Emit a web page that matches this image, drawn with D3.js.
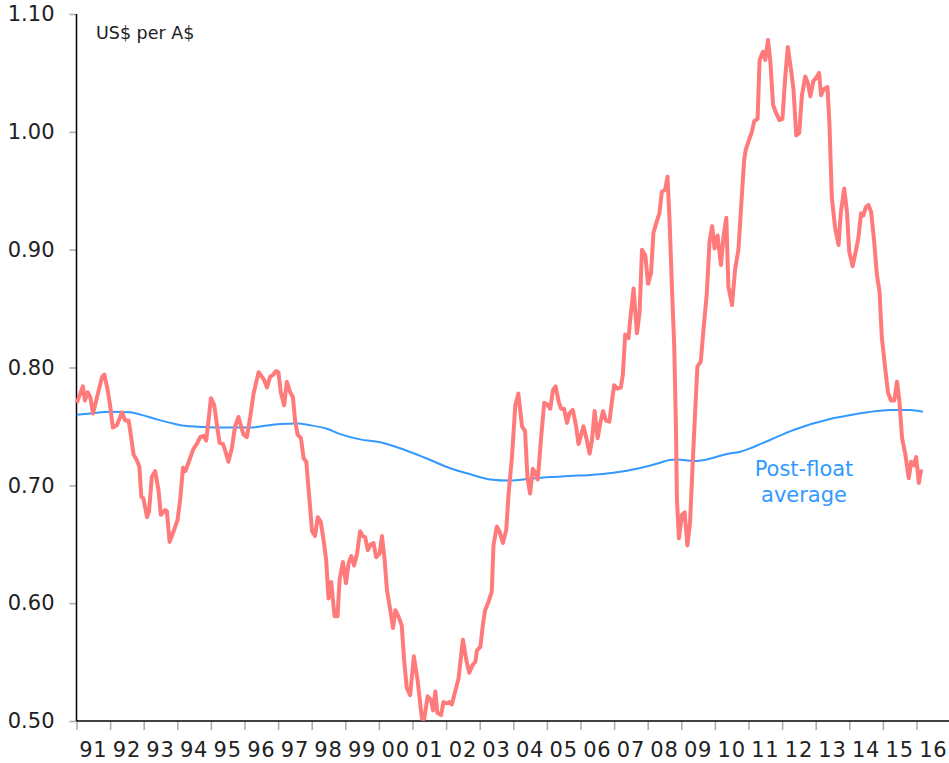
<!DOCTYPE html>
<html>
<head>
<meta charset="utf-8">
<script src="https://cdn.jsdelivr.net/npm/d3@7"></script>
<style>
  html, body { margin: 0; padding: 0; background: #fff; }
  svg { display: block; }
  text { font-family: "DejaVu Sans", sans-serif; fill: #222; }
</style>
</head>
<body>
<svg id="chart"></svg>
<script>
var W = 949, H = 763;

// US$ per A$ (decimal year)
var rateYears = [
  1991.01, 1991.19, 1991.25, 1991.33, 1991.41, 1991.49, 1991.76, 1991.83, 1991.92, 1992.00,
  1992.08, 1992.20, 1992.30, 1992.35, 1992.45, 1992.55, 1992.60, 1992.70, 1992.80, 1992.87,
  1992.93, 1992.99, 1993.10, 1993.16, 1993.24, 1993.34, 1993.44, 1993.51, 1993.64, 1993.69,
  1993.77, 1993.89, 1994.01, 1994.09, 1994.17, 1994.24, 1994.33, 1994.48, 1994.58, 1994.68,
  1994.78, 1994.86, 1994.93, 1995.00, 1995.10, 1995.18, 1995.26, 1995.36, 1995.43, 1995.52,
  1995.62, 1995.72, 1995.82, 1995.97, 1996.07, 1996.17, 1996.27, 1996.42, 1996.52, 1996.59,
  1996.67, 1996.76, 1996.86, 1996.94, 1997.01, 1997.08, 1997.18, 1997.26, 1997.36, 1997.44,
  1997.51, 1997.58, 1997.68, 1997.76, 1997.84, 1997.90, 1997.96, 1998.01, 1998.10, 1998.18,
  1998.27, 1998.35, 1998.43, 1998.50, 1998.58, 1998.68, 1998.77, 1998.83, 1998.93, 1999.02,
  1999.10, 1999.18, 1999.26, 1999.35, 1999.44, 1999.52, 1999.59, 1999.67, 1999.76, 1999.84,
  1999.92, 2000.02, 2000.09, 2000.17, 2000.24, 2000.34, 2000.42, 2000.49, 2000.58, 2000.68,
  2000.75, 2000.83, 2000.93, 2001.04, 2001.15, 2001.28, 2001.35, 2001.45, 2001.55, 2001.61,
  2001.68, 2001.74, 2001.85, 2001.92, 2002.02, 2002.10, 2002.17, 2002.27, 2002.37, 2002.50,
  2002.60, 2002.69, 2002.80, 2002.87, 2002.92, 2003.02, 2003.10, 2003.16, 2003.26, 2003.36,
  2003.41, 2003.51, 2003.59, 2003.69, 2003.79, 2003.86, 2003.96, 2004.06, 2004.15, 2004.26,
  2004.35, 2004.42, 2004.50, 2004.58, 2004.65, 2004.73, 2004.82, 2004.92, 2005.00, 2005.10,
  2005.18, 2005.26, 2005.35, 2005.42, 2005.51, 2005.60, 2005.67, 2005.77, 2005.87, 2005.94,
  2006.09, 2006.19, 2006.27, 2006.34, 2006.42, 2006.51, 2006.59, 2006.67, 2006.76, 2006.86,
  2006.93, 2007.00, 2007.10, 2007.20, 2007.26, 2007.33, 2007.43, 2007.48, 2007.58, 2007.68,
  2007.76, 2007.83, 2007.93, 2008.01, 2008.10, 2008.17, 2008.27, 2008.35, 2008.42, 2008.52,
  2008.59, 2008.65, 2008.72, 2008.79, 2008.84, 2008.87, 2008.93, 2009.02, 2009.10, 2009.18,
  2009.26, 2009.33, 2009.41, 2009.48, 2009.58, 2009.66, 2009.76, 2009.84, 2009.92, 2009.99,
  2010.08, 2010.18, 2010.26, 2010.34, 2010.40, 2010.51, 2010.60, 2010.70, 2010.80, 2010.87,
  2010.92, 2011.05, 2011.10, 2011.17, 2011.27, 2011.33, 2011.43, 2011.50, 2011.58, 2011.65,
  2011.73, 2011.82, 2011.92, 2012.01, 2012.09, 2012.17, 2012.26, 2012.34, 2012.42, 2012.51,
  2012.59, 2012.69, 2012.77, 2012.84, 2012.93, 2013.04, 2013.10, 2013.16, 2013.23, 2013.35,
  2013.41, 2013.48, 2013.58, 2013.68, 2013.75, 2013.85, 2013.93, 2014.00, 2014.10, 2014.21,
  2014.27, 2014.35, 2014.42, 2014.49, 2014.57, 2014.65, 2014.74, 2014.82, 2014.90, 2014.97,
  2015.07, 2015.15, 2015.24, 2015.34, 2015.42, 2015.49, 2015.57, 2015.67, 2015.77, 2015.84,
  2015.92, 2015.99, 2016.07, 2016.13, 2016.19
];
var rateValues = [
  0.770, 0.784, 0.772, 0.779, 0.775, 0.761, 0.792, 0.794, 0.782, 0.768,
  0.749, 0.751, 0.758, 0.762, 0.755, 0.755, 0.746, 0.726, 0.721, 0.716,
  0.690, 0.689, 0.673, 0.678, 0.707, 0.712, 0.696, 0.675, 0.679, 0.678,
  0.652, 0.661, 0.671, 0.689, 0.715, 0.712, 0.719, 0.731, 0.735, 0.741,
  0.742, 0.738, 0.755, 0.774, 0.768, 0.751, 0.736, 0.735, 0.729, 0.720,
  0.731, 0.750, 0.758, 0.743, 0.741, 0.758, 0.778, 0.796, 0.792, 0.789,
  0.783, 0.792, 0.794, 0.797, 0.796, 0.779, 0.768, 0.788, 0.779, 0.775,
  0.754, 0.743, 0.740, 0.723, 0.720, 0.699, 0.679, 0.661, 0.657, 0.673,
  0.669, 0.654, 0.637, 0.604, 0.618, 0.589, 0.589, 0.620, 0.635, 0.617,
  0.634, 0.640, 0.632, 0.642, 0.661, 0.657, 0.656, 0.645, 0.650, 0.651,
  0.639, 0.642, 0.657, 0.637, 0.611, 0.594, 0.579, 0.594, 0.589, 0.581,
  0.552, 0.528, 0.522, 0.555, 0.535, 0.502, 0.502, 0.521, 0.518, 0.509,
  0.525, 0.507, 0.505, 0.516, 0.515, 0.516, 0.514, 0.525, 0.536, 0.569,
  0.552, 0.541, 0.548, 0.550, 0.560, 0.563, 0.583, 0.594, 0.601, 0.610,
  0.649, 0.665, 0.661, 0.651, 0.662, 0.693, 0.724, 0.768, 0.778, 0.750,
  0.746, 0.707, 0.693, 0.714, 0.711, 0.705, 0.738, 0.770, 0.769, 0.765,
  0.781, 0.784, 0.771, 0.765, 0.765, 0.753, 0.761, 0.764, 0.750, 0.735,
  0.750, 0.738, 0.727, 0.738, 0.763, 0.740, 0.753, 0.763, 0.755, 0.754,
  0.770, 0.785, 0.782, 0.783, 0.794, 0.828, 0.825, 0.841, 0.867, 0.829,
  0.847, 0.900, 0.895, 0.871, 0.880, 0.914, 0.924, 0.931, 0.949, 0.951,
  0.962, 0.925, 0.869, 0.818, 0.750, 0.688, 0.655, 0.675, 0.677, 0.649,
  0.668, 0.713, 0.761, 0.801, 0.805, 0.832, 0.863, 0.907, 0.920, 0.901,
  0.912, 0.887, 0.912, 0.927, 0.869, 0.853, 0.883, 0.900, 0.945, 0.976,
  0.985, 0.996, 1.000, 1.009, 1.011, 1.061, 1.068, 1.061, 1.078, 1.060,
  1.023, 1.016, 1.010, 1.011, 1.045, 1.072, 1.054, 1.036, 0.997, 0.999,
  1.031, 1.047, 1.041, 1.030, 1.043, 1.047, 1.050, 1.031, 1.036, 1.038,
  1.006, 0.944, 0.918, 0.904, 0.932, 0.952, 0.932, 0.898, 0.886, 0.901,
  0.910, 0.931, 0.929, 0.936, 0.938, 0.932, 0.907, 0.879, 0.864, 0.825,
  0.799, 0.779, 0.772, 0.772, 0.788, 0.772, 0.740, 0.726, 0.706, 0.720,
  0.717, 0.724, 0.702, 0.712, 0.712
];

// post-float average
var avgYears = [
  1991.01, 1991.41, 1992.00, 1992.60, 1992.90, 1993.39, 1993.79, 1994.09, 1994.78, 1995.57,
  1996.17, 1996.47, 1997.06, 1997.56, 1997.96, 1998.45, 1998.85, 1999.44, 2000.04, 2000.63,
  2001.23, 2001.53, 2002.12, 2002.72, 2003.31, 2003.91, 2004.50, 2005.10, 2005.69, 2006.29,
  2006.98, 2007.75, 2008.35, 2008.65, 2008.87, 2009.36, 2009.76, 2010.36, 2010.75, 2011.05,
  2011.35, 2011.64, 2012.34, 2013.43, 2014.05, 2014.82, 2015.22, 2015.81, 2016.19
];
var avgValues = [
  0.760, 0.761, 0.7625, 0.762, 0.760, 0.756, 0.753, 0.751, 0.7495, 0.749,
  0.749, 0.750, 0.752, 0.7525, 0.751, 0.748, 0.7435, 0.739, 0.7365, 0.7315,
  0.725, 0.7215, 0.7145, 0.7094, 0.705, 0.704, 0.7056, 0.707, 0.708, 0.7088,
  0.7107, 0.7145, 0.719, 0.7215, 0.722, 0.7207, 0.722, 0.7266, 0.7285, 0.7314,
  0.735, 0.7385, 0.747, 0.7563, 0.7597, 0.763, 0.764, 0.764, 0.7625
];

var yTicks = [0.5, 0.6, 0.7, 0.8, 0.9, 1.0, 1.1];
var yearTicks = d3.range(1991, 2017);     // tick marks at start of each year
var yearLabels = ["91","92","93","94","95","96","97","98","99","00","01","02","03",
                  "04","05","06","07","08","09","10","11","12","13","14","15","16"];

var plotLeft = 76.5, plotTop = 14, plotBottom = 721;

var svg = d3.select("#chart")
    .attr("width", W)
    .attr("height", H);

var x = d3.scaleLinear().domain([1991, 2017]).range([plotLeft, plotLeft + 33.6 * 26]);
var y = d3.scaleLinear().domain([0.5, 1.1]).range([plotBottom, plotTop]);

// y axis ticks + labels
var yAxis = svg.append("g").attr("transform", "translate(" + plotLeft + ",0)")
    .call(d3.axisLeft(y).tickValues(yTicks).tickSize(7).tickPadding(15)
        .tickFormat(d3.format(".2f")));
yAxis.select(".domain").remove();
yAxis.selectAll(".tick line").attr("stroke", "#aaa").attr("stroke-width", 1.5);
yAxis.selectAll(".tick text")
    .attr("font-family", "DejaVu Sans, sans-serif")
    .attr("font-size", "21px")
    .attr("fill", "#222");

// x axis ticks
var xAxis = svg.append("g").attr("transform", "translate(0," + plotBottom + ")")
    .call(d3.axisBottom(x).tickValues(yearTicks).tickSize(9).tickFormat(""));
xAxis.select(".domain").remove();
xAxis.selectAll(".tick line").attr("stroke", "#aaa").attr("stroke-width", 1.5);

// year labels centred between ticks
svg.append("g").selectAll("text")
    .data(yearLabels)
    .enter()
    .append("text")
    .attr("x", function(d, i) { return x(1991 + i + 0.5); })
    .attr("y", 757)
    .attr("text-anchor", "middle")
    .attr("font-size", "21px")
    .attr("letter-spacing", "0.8px")
    .text(function(d) { return d; });

// axis lines
svg.append("line")
    .attr("x1", plotLeft).attr("x2", plotLeft)
    .attr("y1", plotTop).attr("y2", plotBottom)
    .attr("stroke", "#000").attr("stroke-width", 1.5);
svg.append("line")
    .attr("x1", plotLeft).attr("x2", W)
    .attr("y1", plotBottom).attr("y2", plotBottom)
    .attr("stroke", "#000").attr("stroke-width", 1.5);

// post-float average
var avgLine = d3.line()
    .x(function(d, i) { return x(avgYears[i]); })
    .y(function(d) { return y(d); })
    .curve(d3.curveMonotoneX);
svg.append("path")
    .datum(avgValues)
    .attr("d", avgLine)
    .attr("fill", "none")
    .attr("stroke", "#3399ff")
    .attr("stroke-width", 2);

// exchange rate
var rateLine = d3.line()
    .x(function(d, i) { return x(rateYears[i]); })
    .y(function(d) { return y(d); });
svg.append("path")
    .datum(rateValues)
    .attr("d", rateLine)
    .attr("fill", "none")
    .attr("stroke", "#ff7b7b")
    .attr("stroke-width", 4)
    .attr("stroke-linejoin", "round");

// labels
svg.append("text")
    .attr("x", 96).attr("y", 39)
    .attr("font-size", "17.5px")
    .text("US$ per A$");

var lbl = svg.append("text")
    .attr("text-anchor", "middle")
    .attr("font-size", "21px")
    .style("fill", "#3399ff");
lbl.append("tspan").attr("x", 804).attr("y", 476).text("Post-float");
lbl.append("tspan").attr("x", 804).attr("y", 502).text("average");
</script>
</body>
</html>
